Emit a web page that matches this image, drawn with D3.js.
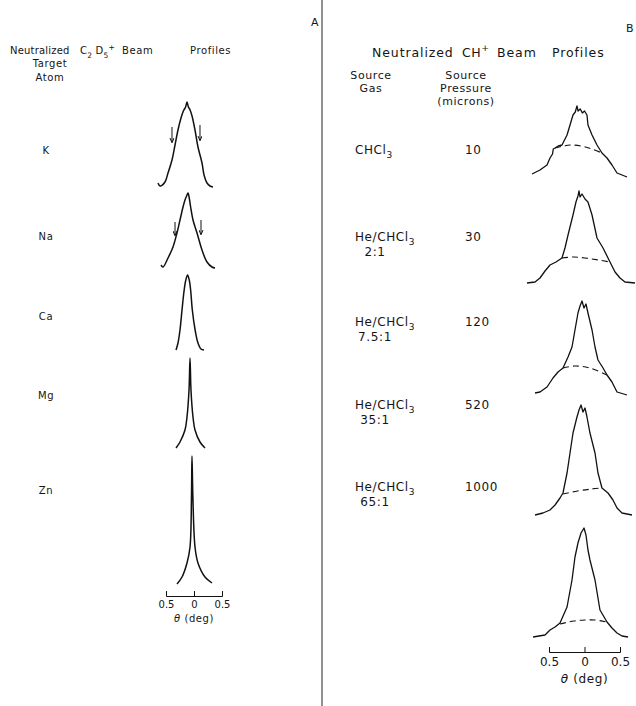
<!DOCTYPE html>
<html>
<head>
<meta charset="utf-8">
<script src="https://cdn.jsdelivr.net/npm/d3@7"></script>
<style>
  body { margin: 0; background: #fff; }
  svg text { font-family: "DejaVu Sans", sans-serif; fill: #151515; white-space: pre; }
</style>
</head>
<body>
<div id="chart"></div>
<script>
// values: theta in degrees, intensity in arbitrary units
const atoms = ["K", "Na", "Ca", "Mg", "Zn"]
const kProfile = [[-0.643,0.3],[-0.607,0],[-0.518,0.4],[-0.464,1.3],[-0.393,2.6],[-0.339,4.1],[-0.286,5.6],[-0.232,6.8],[-0.19,7.5],[-0.15,7.9],[-0.125,8.4],[-0.1,7.9],[-0.07,7.6],[-0.035,7.0],[0.018,5.6],[0.071,3.9],[0.143,2.3],[0.179,1.1],[0.232,0.3],[0.286,0],[0.339,-0.1]]
const naProfile = [[-0.589,0.2],[-0.554,0],[-0.464,0.9],[-0.375,2.0],[-0.304,3.4],[-0.25,4.7],[-0.196,6.0],[-0.161,6.7],[-0.125,7.2],[-0.107,7.4],[-0.085,6.9],[-0.06,6.0],[-0.018,4.7],[0.054,3.4],[0.143,1.7],[0.232,0.5],[0.321,0],[0.375,-0.1]]
const caProfile = [[-0.321,0],[-0.286,0.7],[-0.25,2.0],[-0.214,4.0],[-0.18,5.8],[-0.15,6.9],[-0.115,7.5],[-0.085,7.0],[-0.06,6.0],[-0.03,4.0],[0.02,2.0],[0.071,0.7],[0.125,0.1],[0.179,0]]
const mgProfile = [[-0.321,0],[-0.25,0.6],[-0.161,1.8],[-0.125,3.1],[-0.089,5.8],[-0.071,9.0],[-0.054,5.8],[-0.018,3.1],[0.018,1.8],[0.107,0.6],[0.196,0]]
const znProfile = [[-0.304,0],[-0.214,0.7],[-0.125,2.1],[-0.071,3.7],[-0.045,8.7],[-0.036,12.8],[-0.02,8.7],[0.018,3.7],[0.071,2.1],[0.196,0.7],[0.321,0.1]]
// arrows: [theta, top, bottom]
const kArrows = [[-0.393,5.9,4.4],[0.107,6.1,4.6]]
const naArrows = [[-0.339,4.5,3.2],[0.125,4.7,3.3]]

const sourceGas = ["CHCl3", "He/CHCl3", "He/CHCl3", "He/CHCl3", "He/CHCl3"]
const gasRatio = ["", "2:1", "7.5:1", "35:1", "65:1"]
const pressure = ["10", "30", "120", "520", "1000"]
const chcl3Profile = [[-0.739,0.1],[-0.627,0.5],[-0.528,1.0],[-0.486,1.7],[-0.45,2.1],[-0.44,2.6],[-0.415,2.7],[-0.37,2.9],[-0.317,3.0],[-0.246,4.0],[-0.204,5.0],[-0.162,6.0],[-0.13,6.3],[-0.106,6.9],[-0.09,6.4],[-0.06,6.6],[-0.03,6.2],[0.0,6.4],[0.035,6.0],[0.049,5.0],[0.106,4.0],[0.176,3.0],[0.246,2.2],[0.317,1.7],[0.387,1.0],[0.458,0.2],[0.599,-0.2]]
const he2Profile = [[-0.81,0],[-0.697,0.1],[-0.627,0.5],[-0.556,1.2],[-0.486,1.8],[-0.401,2.1],[-0.317,2.5],[-0.275,3.5],[-0.232,4.8],[-0.162,6.8],[-0.12,8.1],[-0.092,8.7],[-0.077,9.2],[-0.063,8.6],[-0.035,8.9],[0.007,8.4],[0.049,8.1],[0.106,6.8],[0.176,4.5],[0.261,3.5],[0.359,2.1],[0.43,1.1],[0.5,0.5],[0.57,0.1],[0.711,0]]
const he75Profile = [[-0.697,0.1],[-0.627,0.2],[-0.528,0.7],[-0.444,1.6],[-0.373,2.2],[-0.303,2.6],[-0.232,3.7],[-0.176,4.7],[-0.134,6.4],[-0.092,8.1],[-0.063,8.8],[-0.035,9.3],[-0.007,8.6],[0.021,9.0],[0.049,8.1],[0.106,6.4],[0.148,4.7],[0.19,3.4],[0.261,2.6],[0.317,1.9],[0.387,1.2],[0.458,0.2],[0.599,-0.1]]
const he35Profile = [[-0.697,0],[-0.585,0.2],[-0.486,0.5],[-0.415,1.0],[-0.345,1.7],[-0.303,2.2],[-0.246,4.2],[-0.204,6.2],[-0.162,8.2],[-0.106,9.8],[-0.077,10.5],[-0.049,11.0],[-0.021,10.3],[0.007,10.7],[0.035,9.8],[0.077,8.2],[0.148,6.2],[0.19,4.2],[0.246,2.7],[0.331,2.2],[0.401,1.5],[0.458,0.7],[0.528,0.2],[0.669,0]]
const he65Profile = [[-0.725,0],[-0.556,0.2],[-0.486,0.7],[-0.415,1.0],[-0.345,1.4],[-0.246,3.0],[-0.176,5.7],[-0.134,8.0],[-0.092,9.4],[-0.049,10.4],[-0.007,10.9],[0.021,10.2],[0.049,8.7],[0.077,7.7],[0.148,5.7],[0.218,2.7],[0.317,1.5],[0.387,0.9],[0.458,0.4],[0.528,0.1],[0.613,0]]
const chcl3Base = [[-0.415,2.7],[-0.3,2.9],[-0.2,3.0],[-0.05,2.9],[0.1,2.6],[0.246,2.2]]
const he2Base = [[-0.317,2.5],[-0.15,2.6],[0.0,2.5],[0.2,2.3],[0.359,2.1]]
const he75Base = [[-0.303,2.6],[-0.134,2.8],[0.077,2.6],[0.317,1.9]]
const he35Base = [[-0.303,2.1],[-0.1,2.4],[0.1,2.6],[0.246,2.7]]
const he65Base = [[-0.345,1.3],[-0.15,1.6],[0.007,1.7],[0.15,1.7],[0.317,1.5]]
const thetaTicks = [-0.5, 0, 0.5]

// layout
const W = 636, H = 706
const leftBase = [186, 267, 350, 448, 584]
const leftLabelY = [154, 240, 320, 399, 494]
const rightBase = [175, 283, 394, 515, 637]
const rightLabelY = [154, 241, 326, 409, 491]

const svg = d3.select("#chart").append("svg").attr("width", W).attr("height", H)

svg.append("defs").append("marker")
  .attr("id", "head").attr("viewBox", "0 0 6 6").attr("refX", 5).attr("refY", 3)
  .attr("markerWidth", 5).attr("markerHeight", 5).attr("orient", "auto")
  .append("path").attr("d", "M0,0.5L6,3L0,5.5").attr("fill", "none").attr("stroke", "#111").attr("stroke-width", 1.2)

// text with sub / superscripts
function rich(sel, parts, size) {
  let shift = 0
  parts.forEach(([s, m]) => {
    const target = m === "sub" ? size * 0.35 : m === "sup" ? -size * 0.45 : 0
    sel.append("tspan").attr("dy", target - shift).attr("font-size", m ? size * 0.75 : size).text(s)
    shift = target
  })
  return sel
}
function label(x, y, size, anchor, spacing) {
  return svg.append("text").attr("x", x).attr("y", y).attr("font-size", size)
    .attr("text-anchor", anchor || "start").attr("letter-spacing", spacing == null ? 0.6 : spacing)
}

// divider
svg.append("line").attr("x1", 322).attr("x2", 322).attr("y1", 0).attr("y2", H)
  .attr("stroke", "#222").attr("stroke-width", 1)

// panel A text
label(311, 26, 11).text("A")
label(10, 54, 10, "start", 0.2).text("Neutralized")
rich(label(80, 54, 10, "start", 0.2), [["C", ""], ["2", "sub"], [" D", ""], ["5", "sub"], ["+", "sup"]], 10)
label(122, 54, 10).text("Beam")
label(190, 54, 10).text("Profiles")
label(50, 67, 10, "middle").text("Target")
label(50, 81, 10, "middle").text("Atom")
atoms.forEach((a, i) => label(46, leftLabelY[i], 10, "middle").text(a))

// panel B text
label(630, 32, 11, "middle").text("B")
label(372, 57, 12.5, "start", 0.9).text("Neutralized")
rich(label(462, 57, 12.5), [["CH", ""], ["+", "sup"]], 12.5)
label(497, 57, 12.5, "start", 0.9).text("Beam")
label(552, 57, 12.5, "start", 0.9).text("Profiles")
label(371, 79, 11, "middle").text("Source")
label(371, 92, 11, "middle").text("Gas")
label(466, 79, 11, "middle").text("Source")
label(466, 92, 11, "middle").text("Pressure")
label(466, 105, 11, "middle").text("(microns)")
sourceGas.forEach((s, i) => {
  rich(label(355, rightLabelY[i], 12), [[s.replace("3", ""), ""], ["3", "sub"]], 12)
  if (gasRatio[i]) label(375, rightLabelY[i] + 15, 12, "middle").text(gasRatio[i])
  label(465, rightLabelY[i], 12).text(pressure[i])
})

// scales
const xL = d3.scaleLinear().domain([-0.5, 0.5]).range([166, 222])
const xR = d3.scaleLinear().domain([-0.5, 0.5]).range([549, 620])
const yI = d3.scaleLinear().domain([0, 10]).range([0, -100])

const lineL = d3.line().x(d => xL(d[0])).y(d => yI(d[1])).curve(d3.curveCatmullRom.alpha(0.5))
const lineR = d3.line().x(d => xR(d[0])).y(d => yI(d[1]))
const dashR = d3.line().x(d => xR(d[0])).y(d => yI(d[1])).curve(d3.curveCatmullRom)

const leftProfiles = [kProfile, naProfile, caProfile, mgProfile, znProfile]
const leftArrows = [kArrows, naArrows, [], [], []]
leftProfiles.forEach((p, i) => {
  const g = svg.append("g").attr("transform", `translate(0,${leftBase[i]})`)
  g.append("path").datum(p).attr("d", lineL).attr("fill", "none")
    .attr("stroke", "#111").attr("stroke-width", 1.5).attr("stroke-linejoin", "round")
  g.selectAll(".arrow").data(leftArrows[i]).join("line").attr("class", "arrow")
    .attr("x1", d => xL(d[0])).attr("x2", d => xL(d[0]))
    .attr("y1", d => yI(d[1])).attr("y2", d => yI(d[2]))
    .attr("stroke", "#111").attr("stroke-width", 1).attr("marker-end", "url(#head)")
})

const rightProfiles = [chcl3Profile, he2Profile, he75Profile, he35Profile, he65Profile]
const rightBases = [chcl3Base, he2Base, he75Base, he35Base, he65Base]
rightProfiles.forEach((p, i) => {
  const g = svg.append("g").attr("transform", `translate(0,${rightBase[i]})`)
  g.append("path").datum(rightBases[i]).attr("d", dashR).attr("fill", "none")
    .attr("stroke", "#111").attr("stroke-width", 1.1).attr("stroke-dasharray", "6,4")
  g.append("path").datum(p).attr("d", lineR).attr("fill", "none")
    .attr("stroke", "#111").attr("stroke-width", 1.3).attr("stroke-linejoin", "round")
})

// theta axes, bracket style
function thetaAxis(x, y, size) {
  const ax = svg.append("g").attr("transform", `translate(0,${y})`)
    .call(d3.axisBottom(x).tickValues(thetaTicks).tickSize(-5).tickSizeOuter(-5)
      .tickPadding(5).tickFormat(d => Math.abs(d)))
  ax.select(".domain").attr("stroke", "#111")
  ax.selectAll(".tick line").attr("stroke", "#111")
  ax.selectAll(".tick text").attr("font-size", size).attr("font-family", "DejaVu Sans").attr("fill", "#151515")
  const t = svg.append("text").attr("x", x(0)).attr("y", y + size * 2.6).attr("font-size", size)
    .attr("text-anchor", "middle").attr("letter-spacing", 0.6)
  t.append("tspan").attr("font-style", "italic").text("θ")
  t.append("tspan").text(" (deg)")
}
thetaAxis(xL, 596, 10)
thetaAxis(xR, 652, 12)
</script>
</body>
</html>
